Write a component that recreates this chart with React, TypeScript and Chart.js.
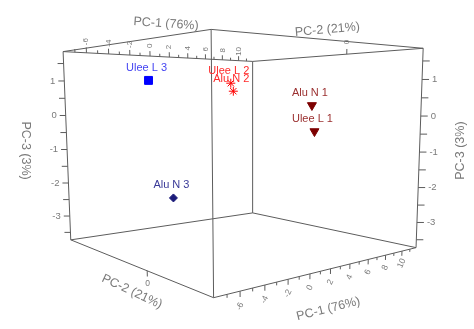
import React, { useEffect, useRef } from "react";
import { Chart, registerables } from "chart.js";

Chart.register(...registerables);

// ---------------- data ----------------
const sampleNames = ["Ulee L 1", "Ulee L 2", "Ulee L 3", "Alu N 1", "Alu N 2", "Alu N 3"];
const pc1Scores = [8.0, -2.0, -6.0, 8.0, -2.0, -6.0];
const pc2Scores = [0.01, 0.66, -1.04, -0.12, 0.77, 0.13];
const pc3Scores = [-0.48, 0.86, 0.94, 0.29, 0.66, -1.97];

const axisTitles = ["PC-1 (76%)", "PC-2 (21%)", "PC-3 (3%)"];
const pc1Range = [-8, 11.8];
const pc2Range = [-4.9, 3.0];
const pc3Range = [-3.73, 1.84];
const pc1TickLabels = [-6, -4, -2, 0, 2, 4, 6, 8, 10];
const pc1MinorTicks = [-7, -5, -3, -1, 1, 3, 5, 7, 9, 11];
const pc2TickLabels = [0];
const pc3TickLabels = [1, 0, -1, -2, -3];
const pc3MinorTicks = [1.5, 0.5, -0.5, -1.5, -2.5, -3.5];

// ---------------- styles ----------------
const markerStyles = ["triangle", "star", "rect", "triangle", "star", "rectRot"];
const markerRotations = [180, 0, 0, 180, 0, 0];
const markerRadii = [5.2, 4.5, 5.6, 5.2, 4.5, 4];
const markerColors = ["#7d0000", "#ff0000", "#0000ff", "#7d0000", "#ff0000", "#1b1b7a"];
const labelColors = ["#9b3030", "#ff2a2a", "#4444f2", "#9b3030", "#ff2a2a", "#3a3a98"];

const FONT = '"Liberation Sans", Arial, sans-serif';
const LINE = "#5c5c5c";
const TEXT = "#7a7a7a";

// perspective view of the unit cube (u: PC-1, v: PC-2, w: PC-3)
const VIEW = {
  ox: 66, oy: 243,
  ux: 247.9, uy: 23.5,
  vx: 84.1, vy: -29.2,
  wx: -10.2, wy: -198,
  du: 0.24, dv: -0.295, dw: -0.04,
};

function project(u: number, v: number, w: number) {
  const d = 1 + VIEW.du * u + VIEW.dv * v + VIEW.dw * w;
  return {
    x: (VIEW.ox + VIEW.ux * u + VIEW.vx * v + VIEW.wx * w) / d,
    y: (VIEW.oy + VIEW.uy * u + VIEW.vy * v + VIEW.wy * w) / d,
  };
}
const norm = (val: number, r: number[]) => (val - r[0]) / (r[1] - r[0]);
function projectScores(a: number, b: number, c: number) {
  return project(norm(a, pc1Range), norm(b, pc2Range), norm(c, pc3Range));
}

const corners: number[][] = [];
for (const u of [0, 1]) for (const v of [0, 1]) for (const w of [0, 1]) corners.push([u, v, w]);
const edges: number[][][] = [];
for (let i = 0; i < corners.length; i++)
  for (let j = i + 1; j < corners.length; j++) {
    const diff = corners[i].reduce((s, c, k) => s + (c !== corners[j][k] ? 1 : 0), 0);
    if (diff === 1) edges.push([corners[i], corners[j]]);
  }

const decorPlugin = {
  id: "decor3d",
  afterDatasetsDraw(chart: any) {
    const ctx: CanvasRenderingContext2D = chart.ctx;
    const sx = chart.scales.x;
    const sy = chart.scales.y;
    const P = (p: { x: number; y: number }) => [sx.getPixelForValue(p.x), sy.getPixelForValue(p.y)];
    ctx.save();
    ctx.strokeStyle = LINE;
    ctx.lineWidth = 1;
    const seg = (a: any, b: any, dx = 0) => {
      const [x1, y1] = P(a);
      const [x2, y2] = P(b);
      ctx.beginPath();
      ctx.moveTo(x1, y1);
      ctx.lineTo(x2 + dx, y2);
      ctx.stroke();
    };
    const text = (t: string, p: any, rot: number, size: number, color: string, align: CanvasTextAlign = "center", dx = 0, dy = 0) => {
      const [x, y] = P(p);
      ctx.save();
      ctx.translate(x + dx, y + dy);
      ctx.rotate((rot * Math.PI) / 180);
      ctx.font = `${size}px ${FONT}`;
      ctx.fillStyle = color;
      ctx.textAlign = align;
      ctx.textBaseline = "middle";
      ctx.fillText(t, 0, 0);
      ctx.restore();
    };

    // PC-1 ticks: top (v=0,w=1) and bottom (v=1,w=0)
    pc1TickLabels.forEach((t) => {
      const u = norm(t, pc1Range);
      seg(project(u, 0, 1), project(u, 0, 1.028));
      seg(project(u, 1, 0), project(u, 1, -0.024));
      text(String(t), project(u, 0, 1.058), -90, 8, TEXT);
      text(String(t), project(u, 1, -0.062), -65, 8.5, TEXT);
    });
    pc1MinorTicks.forEach((t) => {
      const u = norm(t, pc1Range);
      seg(project(u, 0, 1), project(u, 0, 1.016));
      seg(project(u, 1, 0), project(u, 1, -0.014));
    });
    // PC-2 ticks: bottom (u=0,w=0), top (u=1,w=1)
    pc2TickLabels.forEach((t) => {
      const v = norm(t, pc2Range);
      seg(project(0, v, 0), project(0, v, -0.026));
      seg(project(1, v, 1), project(1, v, 1.028));
      text(String(t), project(0, v, -0.06), 0, 8.5, TEXT);
      text(String(t), project(1, v, 1.066), -90, 8, TEXT);
    });
    // PC-3 ticks: left (u=0,v=0), right (u=1,v=1)
    pc3TickLabels.forEach((t) => {
      const w = norm(t, pc3Range);
      const l = project(0, 0, w);
      const r = project(1, 1, w);
      seg(l, l, -6);
      seg(r, r, 7);
      text(String(t), l, 0, 9.5, TEXT, "right", -9, 0);
      text(String(t), r, 0, 9.5, TEXT, "left", 10, 0);
    });
    pc3MinorTicks.forEach((t) => {
      const w = norm(t, pc3Range);
      const l = project(0, 0, w);
      const r = project(1, 1, w);
      seg(l, l, -6);
      seg(r, r, 7);
    });

    // axis titles
    text(axisTitles[0], { x: 164, y: 18 }, 4, 12.5, TEXT);
    text(axisTitles[1], { x: 330, y: 24 }, -5, 12.5, TEXT);
    text(axisTitles[1], { x: 129, y: 297 }, 25, 12.5, TEXT);
    text(axisTitles[0], { x: 331, y: 315 }, -14, 12.5, TEXT);
    text(axisTitles[2], { x: 19, y: 150 }, 90, 12.5, TEXT);
    text(axisTitles[2], { x: 467, y: 150 }, -90, 12.5, TEXT);

    // sample labels
    sampleNames.forEach((name, i) => {
      const p = projectScores(pc1Scores[i], pc2Scores[i], pc3Scores[i]);
      text(name, p, 0, 11, labelColors[i], "center", -2, -12.5);
    });
    ctx.restore();
  },
};

export default function App() {
  const ref = useRef<HTMLCanvasElement>(null);
  useEffect(() => {
    const canvas = ref.current;
    if (!canvas) return;
    const markerDatasets = sampleNames.map((name, i) => ({
      label: name,
      data: [projectScores(pc1Scores[i], pc2Scores[i], pc3Scores[i])],
      pointStyle: markerStyles[i],
      rotation: markerRotations[i],
      pointRadius: markerRadii[i],
      backgroundColor: markerColors[i],
      borderColor: markerColors[i],
      borderWidth: markerStyles[i] === "star" ? 1 : 1,
      showLine: false,
      order: 0,
      clip: false,
    }));
    const edgeDatasets = edges.map(([a, b]) => ({
      label: "edge",
      data: [project(a[0], a[1], a[2]), project(b[0], b[1], b[2])],
      showLine: true,
      borderColor: LINE,
      borderWidth: 1,
      pointRadius: 0,
      fill: false,
      order: 1,
    }));
    const chart = new Chart(canvas, {
      type: "scatter",
      data: { datasets: [...markerDatasets, ...edgeDatasets] as any },
      options: {
        responsive: false,
        animation: false,
        events: [],
        layout: { padding: 0 },
        scales: {
          x: { type: "linear", min: 0, max: 474, display: false },
          y: { type: "linear", min: 0, max: 329, reverse: true, display: false },
        },
        plugins: { legend: { display: false }, tooltip: { enabled: false } },
      },
      plugins: [decorPlugin as any],
    });
    return () => chart.destroy();
  }, []);
  return (
    <div style={{ position: "absolute", left: 0, top: 0, width: 474, height: 329, background: "#fff" }}>
      <canvas ref={ref} width={474} height={329} style={{ display: "block" }} />
    </div>
  );
}
